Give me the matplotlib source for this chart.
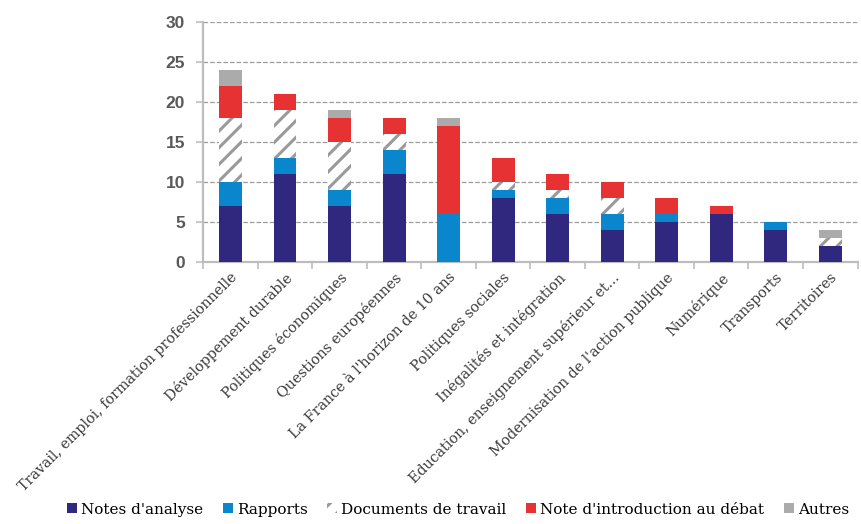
import matplotlib.pyplot as plt
import numpy as np
from matplotlib.patches import Patch

# ── Data ───────────────────────────────────────────────────────────────────────

themes = [
    "Travail, emploi, formation professionnelle",
    "Développement durable",
    "Politiques économiques",
    "Questions européennes",
    "La France à l'horizon de 10 ans",
    "Politiques sociales",
    "Inégalités et intégration",
    "Education, enseignement supérieur et...",
    "Modernisation de l'action publique",
    "Numérique",
    "Transports",
    "Territoires",
]

notes_analyse = [7, 11, 7, 11, 0, 8, 6, 4, 5, 6, 4, 2]
rapports      = [3, 2, 2, 3, 6, 1, 2, 2, 1, 0, 1, 0]
documents     = [8, 6, 6, 2, 0, 1, 1, 2, 0, 0, 0, 1]
note_debat    = [4, 2, 3, 2, 11, 3, 2, 2, 2, 1, 0, 0]
autres        = [2, 0, 1, 0, 1, 0, 0, 0, 0, 0, 0, 1]

series = [
    ("Notes d'analyse",                notes_analyse, "#30287f", None),
    ("Rapports",                       rapports,      "#0a87cc", None),
    ("Documents de travail",           documents,     "white",   "//"),
    ("Note d'introduction au débat",   note_debat,    "#e63232", None),
    ("Autres",                         autres,        "#ababab", None),
]

# ── Plot ───────────────────────────────────────────────────────────────────────

plt.rcParams["hatch.linewidth"] = 2.2
SERIF = "DejaVu Serif"

fig = plt.figure(figsize=(8.61, 5.24), dpi=100)
ax = fig.add_axes([0.236, 0.5, 0.760, 0.458])

x = np.arange(len(themes))
bottom = np.zeros(len(themes))
handles = []
for label, vals, color, hatch in series:
    vals = np.array(vals, dtype=float)
    if hatch:
        ax.bar(x, vals, 0.42, bottom=bottom, color=color, hatch=hatch,
               edgecolor="#9a9a9a", linewidth=0, zorder=3)
        handles.append(Patch(facecolor=color, hatch=hatch, edgecolor="#9a9a9a",
                             linewidth=0, label=label))
    else:
        ax.bar(x, vals, 0.42, bottom=bottom, color=color, linewidth=0, zorder=3)
        handles.append(Patch(facecolor=color, linewidth=0, label=label))
    bottom += vals

ax.set_xlim(-0.5, len(themes) - 0.5)
ax.set_ylim(0, 30)
ax.set_yticks(range(0, 31, 5))
ax.yaxis.grid(True, linestyle="--", color="#9c9c9c", linewidth=0.9, zorder=0)

for side in ("top", "right"):
    ax.spines[side].set_visible(False)
for side in ("left", "bottom"):
    ax.spines[side].set_color("#bdbdbd")
    ax.spines[side].set_linewidth(1.6)

ax.tick_params(axis="y", length=5, width=1.2, color="#bdbdbd",
               labelsize=12.5, labelcolor="#595959", pad=8)
for t in ax.get_yticklabels():
    t.set_fontfamily("Liberation Sans")
    t.set_fontweight("bold")

# category boundaries as tick marks, labels on the centres
ax.set_xticks(x)
ax.set_xticks(np.arange(len(themes) + 1) - 0.5, minor=True)
ax.tick_params(axis="x", which="major", length=0, pad=6)
ax.tick_params(axis="x", which="minor", length=5, width=1.2, color="#bdbdbd")
ax.set_xticklabels(themes, rotation=45, ha="right", va="top",
                   rotation_mode="anchor", fontsize=10.3,
                   family=SERIF, color="#3a3a3a")

fig.legend(handles=handles, loc="lower center", bbox_to_anchor=(0.532, -0.012),
           ncol=5, frameon=False, handlelength=0.65, handleheight=0.65,
           handletextpad=0.25, columnspacing=1.3,
           prop={"family": SERIF, "size": 11})

fig.savefig("out.png", dpi=100)
